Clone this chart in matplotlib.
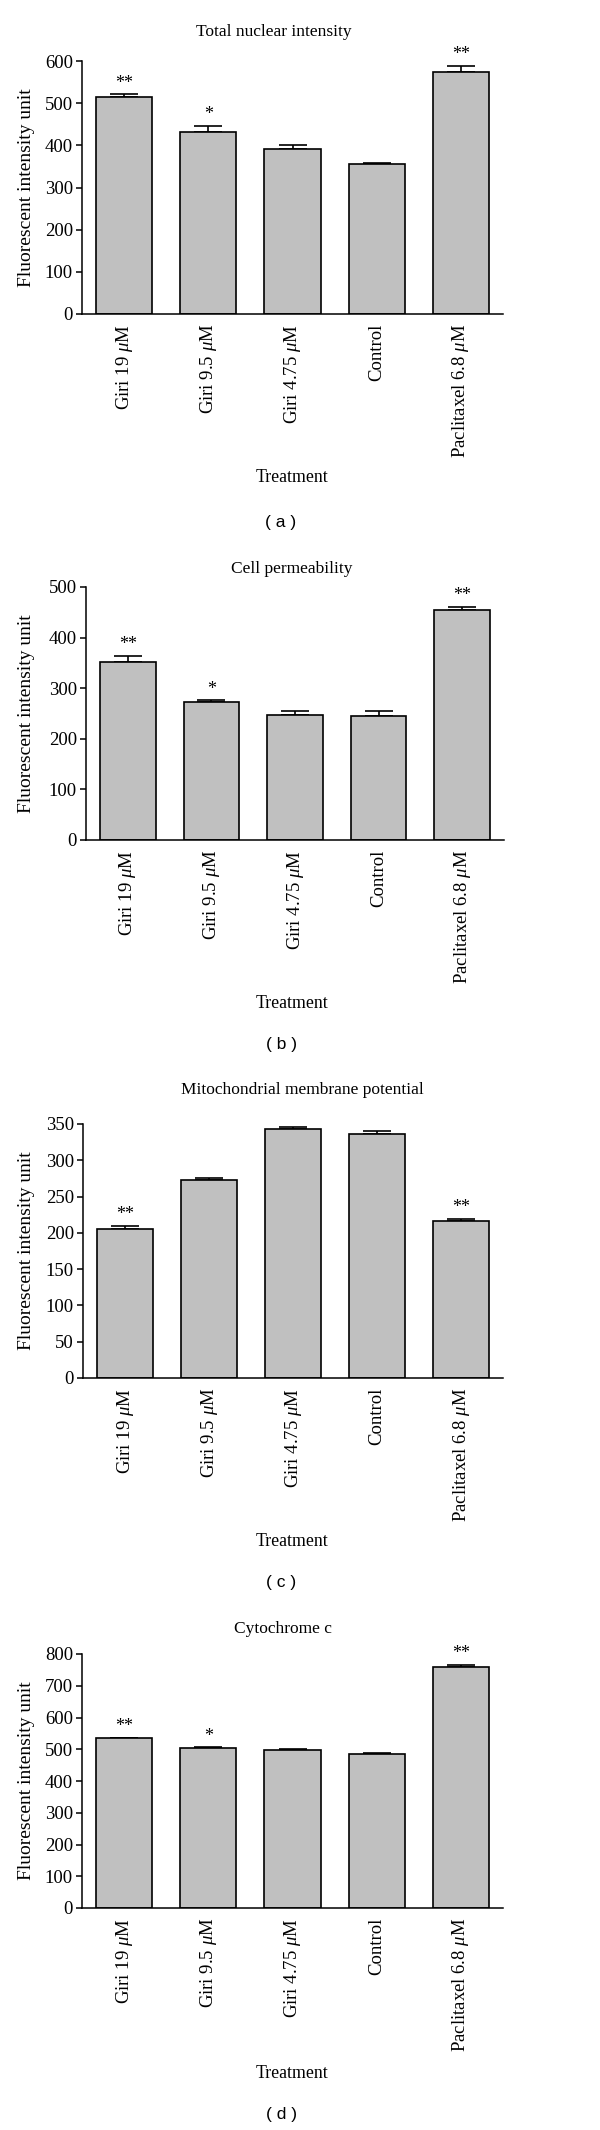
import matplotlib
matplotlib.use("Agg")
import matplotlib.pyplot as plt

plt.rcParams['font.family'] = ['Liberation Serif', 'DejaVu Serif']
plt.rcParams['mathtext.fontset'] = 'custom'
plt.rcParams['mathtext.rm'] = 'Liberation Serif'
plt.rcParams['mathtext.it'] = 'Liberation Serif:italic'

# ---- data ----
categories = ["Giri 19 $\\mu$M", "Giri 9.5 $\\mu$M", "Giri 4.75 $\\mu$M", "Control", "Paclitaxel 6.8 $\\mu$M"]

titles = ["Total nuclear intensity", "Cell permeability", "Mitochondrial membrane potential", "Cytochrome c"]
panel_tags = ["( a )", "( b )", "( c )", "( d )"]

nuclear_mean = [515, 431, 392, 355, 575]
nuclear_err = [6, 15, 8, 2, 13]
nuclear_sig = ["**", "*", "", "", "**"]

perm_mean = [351, 272, 248, 245, 454]
perm_err = [13, 4, 7, 10, 7]
perm_sig = ["**", "*", "", "", "**"]

mito_mean = [205, 273, 343, 336, 216]
mito_err = [5, 3, 3, 4, 3]
mito_sig = ["**", "", "", "", "**"]

cyto_mean = [534, 503, 497, 484, 758]
cyto_err = [3, 3, 4, 5, 8]
cyto_sig = ["**", "*", "", "", "**"]

y_max = [600, 500, 350, 800]
y_step = [100, 100, 50, 100]

means = [nuclear_mean, perm_mean, mito_mean, cyto_mean]
errs = [nuclear_err, perm_err, mito_err, cyto_err]
sigs = [nuclear_sig, perm_sig, mito_sig, cyto_sig]

# ---- layout (pixels) ----
W, H = 600, 2130
# (left, right, top, bottom) of axes, title y, title x, treatment y, tag y
boxes = [
    (82, 503, 61, 314, 32, 274, 478, 522),
    (86, 504, 587, 840, 569, 292, 1003, 1045),
    (83, 503, 1124, 1378, 1090, 302, 1542, 1583),
    (82, 503, 1654, 1908, 1629, 283, 2073, 2115),
]

fig = plt.figure(figsize=(W / 100, H / 100), dpi=100)

for i in range(4):
    l, r, t, b, ty, tx, try_, tagy = boxes[i]
    ax = fig.add_axes([l / W, 1 - b / H, (r - l) / W, (b - t) / H])
    x = list(range(len(categories)))
    ax.bar(x, means[i], width=0.667, color='#c0c0c0', edgecolor='black', linewidth=1.2, zorder=2)
    ax.errorbar(x, means[i], yerr=[[0] * len(x), errs[i]], fmt='none', ecolor='black',
                elinewidth=1.2, capsize=10, capthick=1.2, zorder=1)
    for xi, m, e, s in zip(x, means[i], errs[i], sigs[i]):
        if s:
            ax.annotate(s, (xi, m + e), xytext=(0, 2), textcoords='offset points',
                        ha='center', va='bottom', fontsize=13)
    ax.set_xlim(-0.5, 4.5)
    ax.set_ylim(0, y_max[i])
    ax.set_yticks(list(range(0, y_max[i] + 1, y_step[i])))
    ax.tick_params(axis='y', direction='out', length=4.5, width=1.1, labelsize=13.5, pad=2)
    ax.set_xticks(x)
    ax.set_xticklabels(categories, rotation=90, fontsize=13.5, va='top', ha='center')
    ax.tick_params(axis='x', length=0, pad=7)
    for sp in ['top', 'right']:
        ax.spines[sp].set_visible(False)
    ax.spines['left'].set_linewidth(1.1)
    ax.spines['bottom'].set_linewidth(1.1)
    ax.spines['left'].set_bounds(0, y_max[i])
    ax.set_ylabel("Fluorescent intensity unit", fontsize=14)
    ax.yaxis.set_label_coords(-(l - 35) / (r - l), 0.5)
    fig.text(tx / W, 1 - ty / H, titles[i], ha='center', va='center', fontsize=12.5)
    fig.text(292 / W, 1 - try_ / H, "Treatment", ha='center', va='center', fontsize=12.8)
    fig.text(281 / W, 1 - tagy / H, panel_tags[i], ha='center', va='center', fontsize=12.5,
             family=['Liberation Sans', 'DejaVu Sans'])

fig.savefig("out.png", dpi=100)
